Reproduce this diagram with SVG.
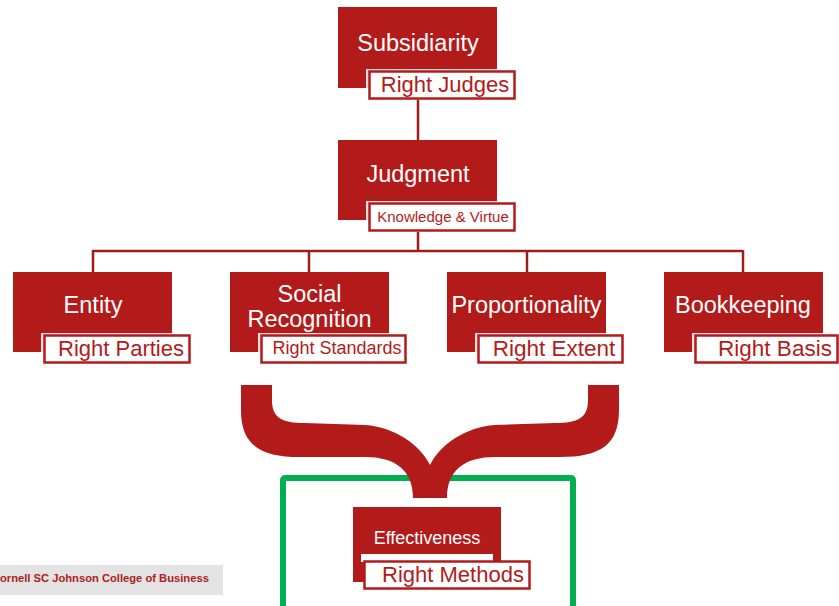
<svg xmlns="http://www.w3.org/2000/svg" width="839" height="606" viewBox="0 0 839 606">
<style>
.box{fill:#b31b1b}
.lbl{fill:#fff;stroke:#b31b1b;stroke-width:2.5}
.ghost{fill:#fff;opacity:0.85}
.t{font-family:"Liberation Sans",Arial,sans-serif;fill:#fff;text-anchor:middle}
.l{font-family:"Liberation Sans",Arial,sans-serif;fill:#b31b1b;text-anchor:middle}
.conn{stroke:#a01c1c;stroke-width:2.5;fill:none}
</style>
<rect width="839" height="606" fill="#fff"/>
<g id="connectors">
<path class="conn" d="M418,100 V140 M418,232 V251 M93,251 H743 M93,250 V272 M309,250 V272 M527,250 V272 M743,250 V272"/>
</g>
<g id="subsidiarity">
<rect class="box" x="338" y="7" width="159" height="81"/>
<text class="t" x="418" y="51" font-size="23.5">Subsidiarity</text>
<rect class="ghost" x="366" y="69" width="145" height="27"/>
<rect class="lbl" x="369.5" y="71.5" width="145" height="27"/>
<text class="l" x="445" y="92" font-size="22">Right Judges</text>
</g>
<g id="judgment">
<rect class="box" x="338" y="140" width="159" height="80"/>
<text class="t" x="418" y="182" font-size="23.5">Judgment</text>
<rect class="ghost" x="366" y="201" width="145" height="27"/>
<rect class="lbl" x="369.5" y="203.5" width="145" height="27"/>
<text class="l" x="443" y="222" font-size="15">Knowledge &amp; Virtue</text>
</g>
<g id="entity">
<rect class="box" x="13" y="272" width="159" height="80"/>
<text class="t" x="93" y="313" font-size="23.5">Entity</text>
<rect class="ghost" x="41" y="333" width="145" height="27"/>
<rect class="lbl" x="44.5" y="335.5" width="145" height="27"/>
<text class="l" x="121" y="356" font-size="22">Right Parties</text>
</g>
<g id="social-recognition">
<rect class="box" x="230" y="272" width="159" height="80"/>
<text class="t" x="309.5" y="302" font-size="23.5">Social</text>
<text class="t" x="309.5" y="327" font-size="23.5">Recognition</text>
<rect class="ghost" x="258" y="333" width="144" height="27"/>
<rect class="lbl" x="261.5" y="335.5" width="144" height="27"/>
<text class="l" x="337" y="354" font-size="18">Right Standards</text>
</g>
<g id="proportionality">
<rect class="box" x="447" y="272" width="159" height="80"/>
<text class="t" x="526.5" y="313" font-size="23.5">Proportionality</text>
<rect class="ghost" x="475" y="333" width="144" height="27"/>
<rect class="lbl" x="478.5" y="335.5" width="144" height="27"/>
<text class="l" x="554" y="356" font-size="22.5">Right Extent</text>
</g>
<g id="bookkeeping">
<rect class="box" x="664" y="272" width="159" height="80"/>
<text class="t" x="743" y="313" font-size="23.5">Bookkeeping</text>
<rect class="ghost" x="692" y="333" width="142" height="27"/>
<rect class="lbl" x="695.5" y="335.5" width="142" height="27"/>
<text class="l" x="775" y="356" font-size="22.5">Right Basis</text>
</g>
<g id="scope-frame">
<rect x="283" y="478" width="290" height="200" rx="2" fill="none" stroke="#00b050" stroke-width="6"/>
</g>
<g id="brace">
<path fill="#b31b1b" d="M241,385 L272,385 L272,400 C272,418 282,423 305,423 L365,425 C395,427 420,445 430,465 C440,445 465,427 495,425 L555,423 C578,423 588,418 588,400 L588,385 L619,385 L619,410 C619,445 600,457 560,457 L495,457 C465,457 447,470 447,498 L413,498 C413,470 395,457 365,457 L300,457 C260,457 241,445 241,410 Z"/>
</g>
<g id="effectiveness">
<rect class="box" x="353" y="507" width="148" height="75"/>
<text class="t" x="427" y="544" font-size="18">Effectiveness</text>
<rect fill="#fff" x="361" y="554" width="132" height="8"/>
<rect class="lbl" x="364.5" y="561.5" width="165" height="27"/>
<text class="l" x="453" y="582" font-size="22">Right Methods</text>
</g>
<g id="footer">
<rect x="0" y="565" width="223" height="30" fill="#e3e3e3"/>
<text x="0" y="582" font-family="Liberation Sans,Arial,sans-serif" font-size="11.2" font-weight="bold" fill="#b31b1b">ornell SC Johnson  College of Business</text>
</g>
</svg>
